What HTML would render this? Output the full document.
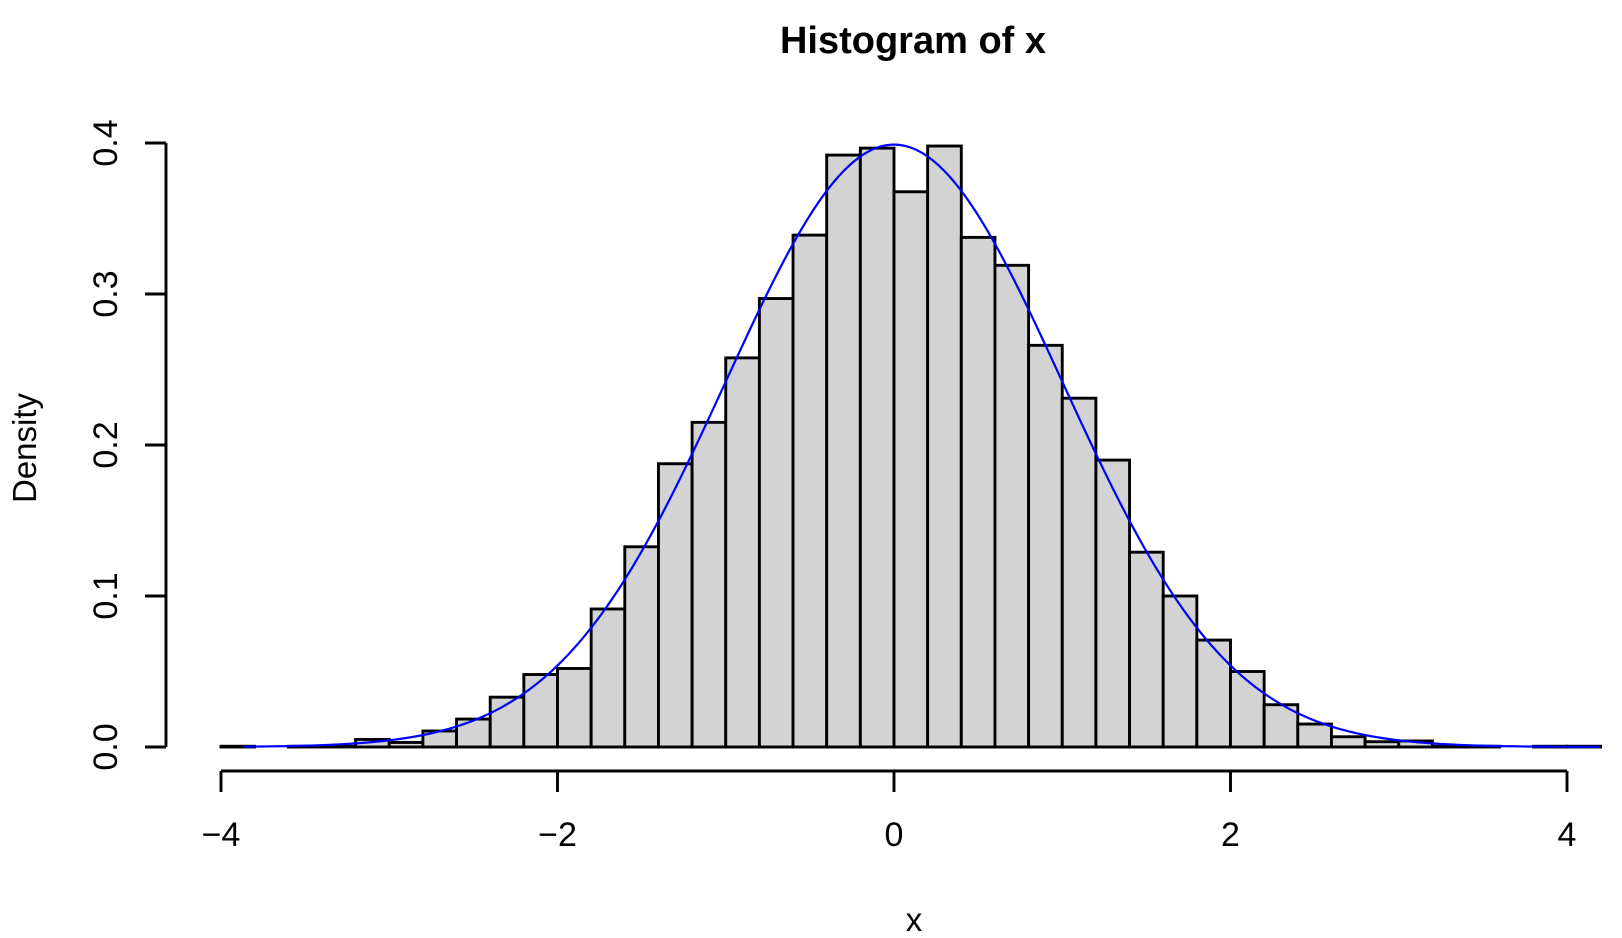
<!DOCTYPE html>
<html><head><meta charset="utf-8"><style>
html,body{margin:0;padding:0;background:#fff;}
svg{display:block;font-family:"Liberation Sans",Arial,sans-serif;}
</style></head><body>
<svg id="chart" width="1622" height="938" viewBox="0 0 1622 938">
<text x="913" y="53" text-anchor="middle" font-size="38" font-weight="bold">Histogram of x</text>
<text x="914" y="931" text-anchor="middle" font-size="33">x</text>
<text transform="translate(36,448) rotate(-90)" text-anchor="middle" font-size="33">Density</text>
<g id="bars"></g>
<g id="curve"></g>
<g id="xaxis"></g>
<g id="yaxis"></g>
</svg>
<script>
const binStarts = [-4.0,-3.8,-3.6,-3.4,-3.2,-3.0,-2.8,-2.6,-2.4,-2.2,-2.0,-1.8,-1.6,-1.4,-1.2,-1.0,-0.8,-0.6,-0.4,-0.2,0.0,0.2,0.4,0.6,0.8,1.0,1.2,1.4,1.6,1.8,2.0,2.2,2.4,2.6,2.8,3.0,3.2,3.4,3.6,3.8,4.0];
const densities = [0.0005,0,0.0005,0.0005,0.005,0.003,0.0106,0.0185,0.033,0.048,0.052,0.0914,0.1326,0.1876,0.215,0.2577,0.297,0.339,0.392,0.3966,0.3677,0.398,0.3375,0.319,0.266,0.231,0.190,0.129,0.100,0.0708,0.050,0.028,0.0152,0.0068,0.0035,0.004,0.0005,0.0005,0,0.0005,0.0005];
const binWidth = 0.2;
const xTicks = [-4,-2,0,2,4];
const xTickLabels = ["\u22124","\u22122","0","2","4"];
const yTicks = [0,0.1,0.2,0.3,0.4];
const yTickLabels = ["0.0","0.1","0.2","0.3","0.4"];

const NS = "http://www.w3.org/2000/svg";
const X = v => 894 + v * 168.25;
const Y = v => 747 - v * 1510;
function mk(tag, attrs, parent){
  const e = document.createElementNS(NS, tag);
  for (const k in attrs) e.setAttribute(k, attrs[k]);
  parent.appendChild(e);
  return e;
}
const bars = document.getElementById('bars');
binStarts.forEach((b, i) => {
  const x0 = X(b), x1 = X(b + binWidth), y = Y(densities[i]);
  const r = mk('rect', {x: x0, y: y, width: x1 - x0, height: 747 - y, fill: '#d3d3d3', stroke: '#000', 'stroke-width': 2.9}, bars);
  
  
});
const curveG = document.getElementById('curve');
let d = '';
for (let v = -3.87; v <= 4.21; v += 0.02) {
  const p = Math.exp(-v * v / 2) / Math.sqrt(2 * Math.PI);
  d += (d ? 'L' : 'M') + X(v).toFixed(2) + ',' + Y(p).toFixed(2);
}
const path = mk('path', {d: d, fill: 'none', stroke: '#0000ff', 'stroke-width': 2.2}, curveG);



const xa = document.getElementById('xaxis');
mk('line', {x1: X(xTicks[0]), x2: X(xTicks[xTicks.length-1]), y1: 771, y2: 771, stroke: '#000', 'stroke-width': 2.9}, xa);
xTicks.forEach((t, i) => {
  mk('line', {x1: X(t), x2: X(t), y1: 771, y2: 792, stroke: '#000', 'stroke-width': 2.9}, xa);
  const tx = mk('text', {x: X(t), y: 846, 'text-anchor': 'middle', 'font-size': 34}, xa);
  tx.textContent = xTickLabels[i];
  
  
});
const ya = document.getElementById('yaxis');
mk('line', {x1: 166, x2: 166, y1: Y(yTicks[0]), y2: Y(yTicks[yTicks.length-1]), stroke: '#000', 'stroke-width': 2.9}, ya);
yTicks.forEach((t, i) => {
  mk('line', {x1: 145, x2: 166, y1: Y(t), y2: Y(t), stroke: '#000', 'stroke-width': 2.9}, ya);
  const tx = mk('text', {transform: 'translate(117,' + Y(t) + ') rotate(-90)', 'text-anchor': 'middle', 'font-size': 34}, ya);
  tx.textContent = yTickLabels[i];
  
  
});
</script>
</body></html>
